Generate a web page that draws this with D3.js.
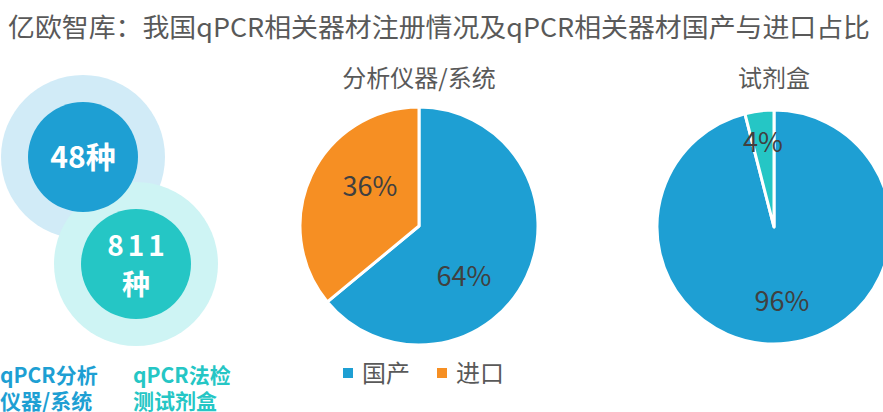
<!DOCTYPE html>
<html lang="zh">
<head>
<meta charset="UTF-8">
<title>亿欧智库：我国qPCR相关器材注册情况及qPCR相关器材国产与进口占比</title>
<script src="https://d3js.org/d3.v7.min.js"></script>
<style>
  body { margin: 0; background: #fff; font-family: "Microsoft YaHei", "Noto Sans CJK SC", sans-serif; }
  svg { display: block; }
</style>
</head>
<body>
<script>
// data
const categories = ["国产", "进口"];
const instrumentShare = [64, 36];   // 分析仪器/系统
const reagentShare = [96, 4];       // 试剂盒
const countLabels = ["48种", "811种"];
const countNames = [["qPCR分析", "仪器/系统"], ["qPCR法检", "测试剂盒"]];

const W = 883, H = 412;
const svg = d3.select("body").append("svg")
    .attr("width", W)
    .attr("height", H);

const fontCJK = '"Microsoft YaHei", "Noto Sans CJK SC", sans-serif';

// title
svg.append("text")
    .attr("x", 8)
    .attr("y", 37)
    .attr("textLength", 862)
    .attr("lengthAdjust", "spacingAndGlyphs")
    .style("font-family", fontCJK)
    .style("font-size", "26px")
    .style("fill", "#595959")
    .text("亿欧智库：我国qPCR相关器材注册情况及qPCR相关器材国产与进口占比");

// bubbles on the left
const bubbles = [
    { cx: 83, cy: 157, outer: "#d1ebf7", inner: "#1e9fd3" },
    { cx: 136, cy: 264, outer: "#cef4f4", inner: "#25c6c5" }
];
bubbles.forEach(b => {
    svg.append("circle").attr("cx", b.cx).attr("cy", b.cy).attr("r", 82).attr("fill", b.outer);
});
bubbles.forEach(b => {
    svg.append("circle").attr("cx", b.cx).attr("cy", b.cy).attr("r", 55).attr("fill", b.inner);
});

// 48种
svg.append("text")
    .attr("x", bubbles[0].cx).attr("y", bubbles[0].cy + 11)
    .attr("text-anchor", "middle")
    .style("font-family", fontCJK).style("font-weight", "bold")
    .style("font-size", "30px").style("fill", "#fff")
    .text(countLabels[0]);

// 811 / 种
svg.append("text")
    .attr("x", bubbles[1].cx + 2).attr("y", bubbles[1].cy - 8)
    .attr("text-anchor", "middle")
    .style("font-family", fontCJK).style("font-weight", "bold")
    .style("font-size", "28px").style("fill", "#fff")
    .style("letter-spacing", "4px")
    .text(countLabels[1].slice(0, 3));
svg.append("text")
    .attr("x", bubbles[1].cx).attr("y", bubbles[1].cy + 31)
    .attr("text-anchor", "middle")
    .style("font-family", fontCJK).style("font-weight", "bold")
    .style("font-size", "28px").style("fill", "#fff")
    .text(countLabels[1].slice(3));

// labels under bubbles
const labelX = [0, 133];
countNames.forEach((lines, i) => {
    lines.forEach((t, j) => {
        svg.append("text")
            .attr("x", labelX[i])
            .attr("y", 383 + j * 26)
            .style("font-family", fontCJK).style("font-weight", "bold")
            .style("font-size", "21px")
            .style("fill", bubbles[i].inner)
            .text(t);
    });
});

// pies
const colorInst = d3.scaleOrdinal().domain(categories).range(["#1e9fd3", "#f68f23"]);
const colorReag = d3.scaleOrdinal().domain(categories).range(["#1e9fd3", "#25c6c5"]);

const pie = d3.pie().sort(null).value(d => d.v);

function drawPie(cx, cy, r, title, values, color, labelOffsets) {
    const g = svg.append("g").attr("transform", `translate(${cx},${cy})`);
    const data = pie(categories.map((c, i) => ({ c, v: values[i] })));
    const arc = d3.arc().innerRadius(0).outerRadius(r);
    g.selectAll("path")
        .data(data)
        .join("path")
        .attr("d", arc)
        .attr("fill", d => color(d.data.c))
        .attr("stroke", "#fff")
        .attr("stroke-width", 3)
        .attr("stroke-linejoin", "round");

    // label placement relative to the pie centre
    g.selectAll("text.pct")
        .data(data)
        .join("text")
        .attr("class", "pct")
        .attr("transform", (d, i) => `translate(${labelOffsets[i][0]},${labelOffsets[i][1]})`)
        .attr("text-anchor", "middle")
        .attr("dy", "0.35em")
        .style("font-family", fontCJK)
        .style("font-size", "27px")
        .style("fill", "#404040")
        .text(d => d.data.v + "%");

    svg.append("text")
        .attr("x", cx).attr("y", 87)
        .attr("text-anchor", "middle")
        .style("font-family", fontCJK)
        .style("font-size", "24px")
        .style("fill", "#595959")
        .text(title);
}

drawPie(419, 226, 119, "分析仪器/系统", instrumentShare, colorInst, [[45, 51], [-49, -39]]);
drawPie(774, 227, 117, "试剂盒", reagentShare, colorReag, [[8, 75], [-11, -84]]);

// legend
const legend = svg.append("g").attr("transform", "translate(343,373)");
const legX = [0, 94];
categories.forEach((c, i) => {
    legend.append("rect")
        .attr("x", legX[i]).attr("y", -5)
        .attr("width", 10).attr("height", 10)
        .attr("fill", colorInst(c));
    legend.append("text")
        .attr("x", legX[i] + 19).attr("y", 0)
        .attr("dy", "0.36em")
        .style("font-family", fontCJK)
        .style("font-size", "24px")
        .style("fill", "#595959")
        .text(c);
});
</script>
</body>
</html>
